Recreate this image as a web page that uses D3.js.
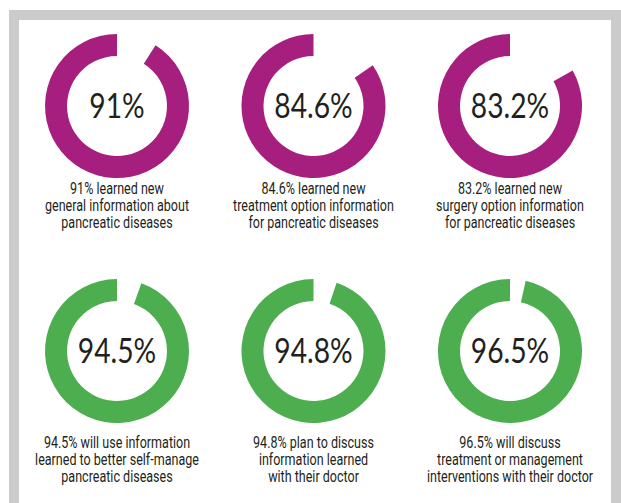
<!DOCTYPE html>
<html>
  <head>
    <meta charset="utf-8">
    <title>Pancreatic disease education rings</title>
    <style>
      body { margin: 0; background: #fff; }
      .pct { font-family: Lato, "Open Sans", sans-serif; font-size: 34px; fill: #231f20; }
      .cap { font-family: Roboto, "Noto Sans", sans-serif; font-size: 16.5px; fill: #231f20; }
    </style>
  </head>
  <body>
    <div id="container"></div>
    <script src="https://d3js.org/d3.v7.min.js"></script>
    <script>

      // DATA
      var values = [91, 84.6, 83.2, 94.5, 94.8, 96.5];
      var pctLabels = ["91%", "84.6%", "83.2%", "94.5%", "94.8%", "96.5%"];
      var groups = ["learned", "learned", "learned", "will", "will", "will"];
      var captions = [
        ["91% learned new", "general information about", "pancreatic diseases"],
        ["84.6% learned new", "treatment option information", "for pancreatic diseases"],
        ["83.2% learned new", "surgery option information", "for pancreatic diseases"],
        ["94.5% will use information", "learned to better self-manage", "pancreatic diseases"],
        ["94.8% plan to discuss", "information learned", "with their doctor"],
        ["96.5% will discuss", "treatment or management", "interventions with their doctor"]
      ];

      // SIZE
      var width = 621, height = 503;

      var svg = d3.select("#container")
        .append("svg")
        .attr("width", width)
        .attr("height", height);

      // GRAY FRAME
      svg.append("rect")
        .attr("x", 14).attr("y", 15)
        .attr("width", 602).attr("height", 500)
        .attr("fill", "none")
        .attr("stroke", "#cbcbcb")
        .attr("stroke-width", 10);

      // SCALES
      var col = d3.scalePoint().domain([0, 1, 2]).range([117, 510]);
      var row = d3.scalePoint().domain([0, 1]).range([106, 351]);
      var capRow = d3.scalePoint().domain([0, 1]).range([194, 448]);
      var lineY = d3.scaleLinear().domain([0, 1]).range([0, 17.2]);
      var color = d3.scaleOrdinal().domain(["learned", "will"]).range(["#a61f7f", "#4cae4f"]);
      var angle = d3.scaleLinear().domain([0, 100]).range([0, 2 * Math.PI]);

      var arc = d3.arc()
        .innerRadius(50)
        .outerRadius(72)
        .startAngle(d => angle(100 - d))
        .endAngle(angle(100));

      var cells = svg.selectAll(".cell")
        .data(values)
        .enter()
        .append("g")
        .attr("class", "cell");

      // RINGS
      cells.append("path")
        .attr("transform", (d, i) => "translate(" + col(i % 3) + "," + row(Math.floor(i / 3)) + ")")
        .attr("d", d => arc(d))
        .attr("fill", (d, i) => color(groups[i]));

      // CENTER LABELS
      cells.append("text")
        .attr("class", "pct")
        .attr("text-anchor", "middle")
        .attr("transform", (d, i) => "translate(" + col(i % 3) + "," + (row(Math.floor(i / 3)) + 12) + ") scale(0.83,1)")
        .text((d, i) => pctLabels[i]);

      // CAPTIONS (one text per line, condensed look)
      cells.selectAll(".cap")
        .data((d, i) => captions[i].map((t, j) => ({ t: t, i: i, j: j })))
        .enter()
        .append("text")
        .attr("class", "cap")
        .attr("text-anchor", "middle")
        .attr("transform", d => "translate(" + col(d.i % 3) + "," + (capRow(Math.floor(d.i / 3)) + lineY(d.j)) + ") scale(0.76,1)")
        .text(d => d.t);

    </script>
  </body>
</html>
